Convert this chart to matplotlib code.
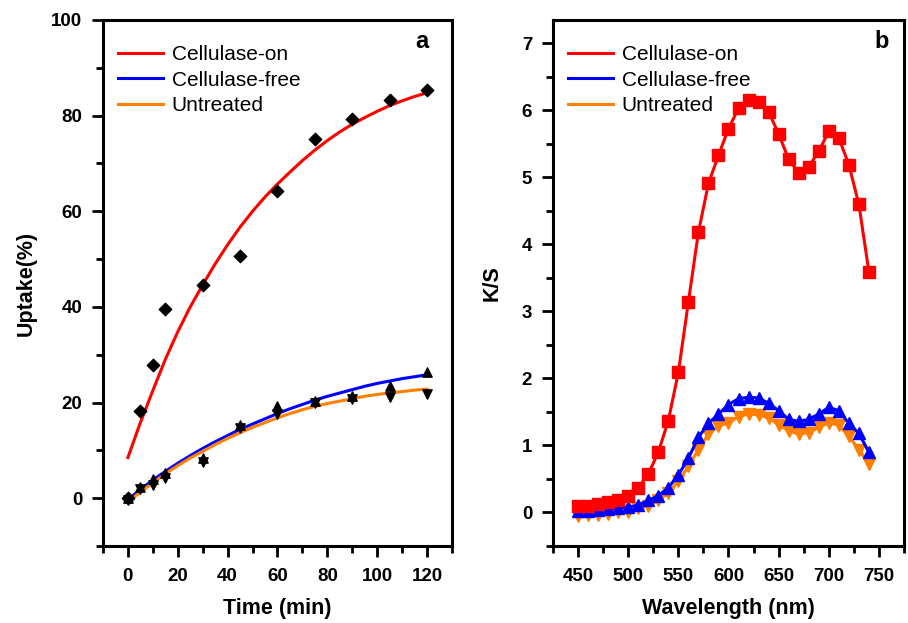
import matplotlib
matplotlib.use('Agg')
import matplotlib.pyplot as plt
from matplotlib.ticker import MultipleLocator

plt.rcParams['font.family'] = ['Liberation Sans', 'DejaVu Sans']

# panel a: uptake vs time
time = [0, 5, 10, 15, 30, 45, 60, 75, 90, 105, 120]
uptake_on = [0, 18.3, 27.8, 39.5, 44.6, 50.6, 64.2, 75.2, 79.3, 83.2, 85.4]
uptake_free = [0, 2.4, 4.1, 5.2, 8.3, 15.3, 19.2, 20.3, 21.4, 23.5, 26.3]
uptake_untr = [-0.3, 2.0, 2.7, 4.3, 7.5, 14.6, 17.6, 20.0, 20.8, 21.2, 21.8]

# fitted curves
fit_t = [0, 5, 10, 15, 20, 25, 30, 35, 40, 45, 50, 55, 60, 65, 70, 75, 80, 85, 90,
         95, 100, 105, 110, 115, 120]
fit_on = [8.5, 15.8, 22.5, 29.0, 34.8, 40.0, 44.6, 49.0, 53.0, 56.7, 60.0, 63.0, 65.7,
          68.2, 70.6, 72.8, 74.8, 76.6, 78.2, 79.6, 80.9, 82.1, 83.1, 84.0, 84.8]
fit_free = [-0.3, 1.8, 3.8, 5.6, 7.3, 8.9, 10.4, 11.8, 13.1, 14.4, 15.5, 16.6, 17.7,
            18.7, 19.6, 20.5, 21.3, 22.0, 22.7, 23.4, 24.0, 24.5, 25.0, 25.4, 25.8]
fit_untr = [-0.8, 1.3, 3.2, 5.1, 6.8, 8.4, 9.8, 11.2, 12.5, 13.7, 14.8, 15.8, 16.8,
            17.7, 18.5, 19.2, 19.8, 20.3, 20.8, 21.3, 21.7, 22.0, 22.3, 22.6, 22.8]

# panel b: K/S spectra
wavelength = list(range(450, 750, 10))
ks_on = [0.10, 0.10, 0.13, 0.16, 0.19, 0.25, 0.37, 0.57, 0.90, 1.37, 2.09, 3.14, 4.18,
         4.91, 5.33, 5.73, 6.03, 6.15, 6.13, 5.98, 5.65, 5.27, 5.07, 5.16, 5.39, 5.69,
         5.59, 5.19, 4.60, 3.59]
ks_free = [0.02, 0.02, 0.03, 0.05, 0.07, 0.08, 0.11, 0.18, 0.25, 0.37, 0.56, 0.81, 1.12,
           1.33, 1.47, 1.61, 1.70, 1.72, 1.71, 1.63, 1.52, 1.39, 1.36, 1.39, 1.47, 1.57,
           1.52, 1.33, 1.18, 0.90]
ks_untr = [-0.05, -0.04, -0.03, -0.02, 0.0, 0.01, 0.06, 0.10, 0.18, 0.29, 0.47, 0.69, 0.94,
           1.17, 1.29, 1.34, 1.43, 1.47, 1.46, 1.41, 1.31, 1.22, 1.17, 1.19, 1.27, 1.34,
           1.30, 1.14, 0.94, 0.72]

labels = ['Cellulase-on', 'Cellulase-free', 'Untreated']
red, blue, orange = '#ff0000', '#0000ff', '#ff8000'

fig = plt.figure(figsize=(9.08, 6.23), dpi=100)
ax1 = fig.add_axes([0.1134, 0.1236, 0.3844, 0.8443])
ax2 = fig.add_axes([0.609, 0.1236, 0.3866, 0.8443])


def style(ax):
    for s in ax.spines.values():
        s.set_linewidth(2.2)
    ax.tick_params(which='both', direction='out', width=2, top=False, right=False,
                   labelsize=13.5)
    ax.tick_params(which='major', length=8)
    ax.tick_params(which='minor', length=5)
    ax.tick_params(axis='x', pad=8)
    ax.tick_params(axis='y', pad=7)
    for lb in ax.get_xticklabels() + ax.get_yticklabels():
        lb.set_fontweight('bold')


def legend(ax):
    ax.legend(loc='upper left', frameon=False, fontsize=15, handlelength=2.2,
              handletextpad=0.4, labelspacing=0.32, borderaxespad=0.3,
              bbox_to_anchor=(0.0, 0.98))


# ---- panel a
ax1.plot(fit_t, fit_on, color=red, lw=2.2, label=labels[0], zorder=2)
ax1.plot(fit_t, fit_free, color=blue, lw=2.2, label=labels[1], zorder=2)
ax1.plot(fit_t, fit_untr, color=orange, lw=2.2, label=labels[2], zorder=2)
ax1.scatter(time, uptake_on, marker='D', s=40, color='black', zorder=3)
ax1.scatter(time, uptake_free, marker='^', s=45, color='black', zorder=3)
ax1.scatter(time, uptake_untr, marker='v', s=45, color='black', zorder=3)
ax1.set_xlim(-10, 130)
ax1.set_ylim(-10, 100)
ax1.xaxis.set_major_locator(MultipleLocator(20))
ax1.xaxis.set_minor_locator(MultipleLocator(10))
ax1.yaxis.set_major_locator(MultipleLocator(20))
ax1.yaxis.set_minor_locator(MultipleLocator(10))
ax1.set_xlabel('Time (min)', fontsize=15.5, fontweight='bold', labelpad=9)
ax1.set_ylabel('Uptake(%)', fontsize=15.5, fontweight='bold', labelpad=10)
style(ax1)
legend(ax1)
ax1.text(0.915, 0.96, 'a', transform=ax1.transAxes, fontsize=17,
         fontweight='bold', ha='center', va='center')

# ---- panel b
ax2.plot(wavelength, ks_on, color=red, lw=2.2, marker='s', ms=8, zorder=4)
ax2.plot(wavelength, ks_untr, color=orange, lw=2.2, marker='v', ms=9, zorder=2)
ax2.plot(wavelength, ks_free, color=blue, lw=2.2, marker='^', ms=9, zorder=3)
for c, lb in zip([red, blue, orange], labels):
    ax2.plot([], [], color=c, lw=2.2, label=lb)
ax2.set_xlim(425, 775)
ax2.set_ylim(-0.5, 7.35)
ax2.xaxis.set_major_locator(MultipleLocator(50))
ax2.xaxis.set_minor_locator(MultipleLocator(25))
ax2.yaxis.set_major_locator(MultipleLocator(1))
ax2.yaxis.set_minor_locator(MultipleLocator(0.5))
ax2.set_xlabel('Wavelength (nm)', fontsize=15.5, fontweight='bold', labelpad=9)
ax2.set_ylabel('K/S', fontsize=15.5, fontweight='bold', labelpad=14)
style(ax2)
legend(ax2)
ax2.text(0.935, 0.96, 'b', transform=ax2.transAxes, fontsize=17,
         fontweight='bold', ha='center', va='center')

fig.savefig('out.png', dpi=100)
